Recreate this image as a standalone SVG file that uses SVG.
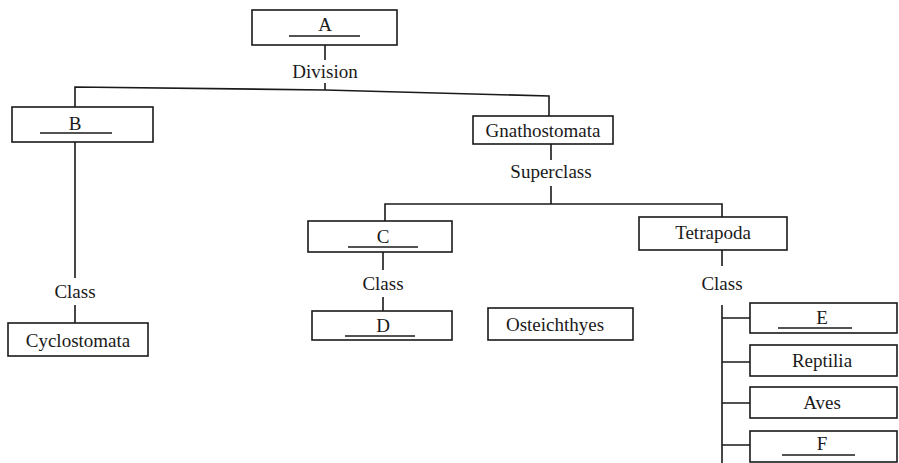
<svg xmlns="http://www.w3.org/2000/svg" width="899" height="463" viewBox="0 0 899 463">
<style>
.box{fill:#fff;stroke:#1a1a1a;stroke-width:1.6}
.ln{fill:none;stroke:#1a1a1a;stroke-width:1.6}
.ul{stroke:#1a1a1a;stroke-width:1.4}
text{font-family:"Liberation Serif","Times New Roman",serif;font-size:19px;fill:#1a1a1a;text-anchor:middle}
</style>
<rect width="899" height="463" fill="#fff"/>
<g id="connectors">
<path class="ln" d="M325,45 V60 M325,83 V90"/>
<path class="ln" d="M75,107 V87 L325,90 L549,96 V116"/>
<path class="ln" d="M75,142 V278 M75,305 V323"/>
<path class="ln" d="M551,144 V160 M551,186 V204"/>
<path class="ln" d="M385,221 V204 H722 V217"/>
<path class="ln" d="M383,252 V270 M383,297 V311"/>
<path class="ln" d="M722,250 V266 M722,305 V463"/>
<path class="ln" d="M722,318 H750 M722,362 H750 M722,403 H750 M722,445 H750"/>
<text x="325" y="78">Division</text>
<text x="551" y="178">Superclass</text>
<text x="75" y="298">Class</text>
<text x="383" y="290">Class</text>
<text x="722" y="290">Class</text>
</g>
<g id="nodeA"><rect class="box" x="252" y="10" width="145" height="35"/><text x="325" y="31">A</text><line class="ul" x1="289" y1="36" x2="360" y2="36"/></g>
<g id="nodeB"><rect class="box" x="12" y="107" width="141" height="35"/><text x="75" y="130">B</text><line class="ul" x1="40" y1="133" x2="112" y2="133"/></g>
<g id="nodeCyclostomata"><rect class="box" x="8" y="323" width="140" height="33"/><text x="78" y="347">Cyclostomata</text></g>
<g id="nodeGnathostomata"><rect class="box" x="473" y="116" width="140" height="28"/><text x="543" y="137">Gnathostomata</text></g>
<g id="nodeC"><rect class="box" x="308" y="221" width="144" height="31"/><text x="383" y="243">C</text><line class="ul" x1="348" y1="247" x2="418" y2="247"/></g>
<g id="nodeD"><rect class="box" x="312" y="311" width="140" height="29"/><text x="383" y="332">D</text><line class="ul" x1="345" y1="336" x2="415" y2="336"/></g>
<g id="nodeOsteichthyes"><rect class="box" x="488" y="308" width="145" height="32"/><text x="555" y="331">Osteichthyes</text></g>
<g id="nodeTetrapoda"><rect class="box" x="639" y="217" width="148" height="33"/><text x="713" y="239">Tetrapoda</text></g>
<g id="nodeE"><rect class="box" x="750" y="303" width="147" height="30"/><text x="822" y="324">E</text><line class="ul" x1="778" y1="328" x2="852" y2="328"/></g>
<g id="nodeReptilia"><rect class="box" x="750" y="345" width="147" height="31"/><text x="822" y="367">Reptilia</text></g>
<g id="nodeAves"><rect class="box" x="750" y="387" width="147" height="31"/><text x="822" y="409">Aves</text></g>
<g id="nodeF"><rect class="box" x="750" y="431" width="147" height="31"/><text x="822" y="450">F</text><line class="ul" x1="782" y1="455" x2="855" y2="455"/></g>
</svg>
